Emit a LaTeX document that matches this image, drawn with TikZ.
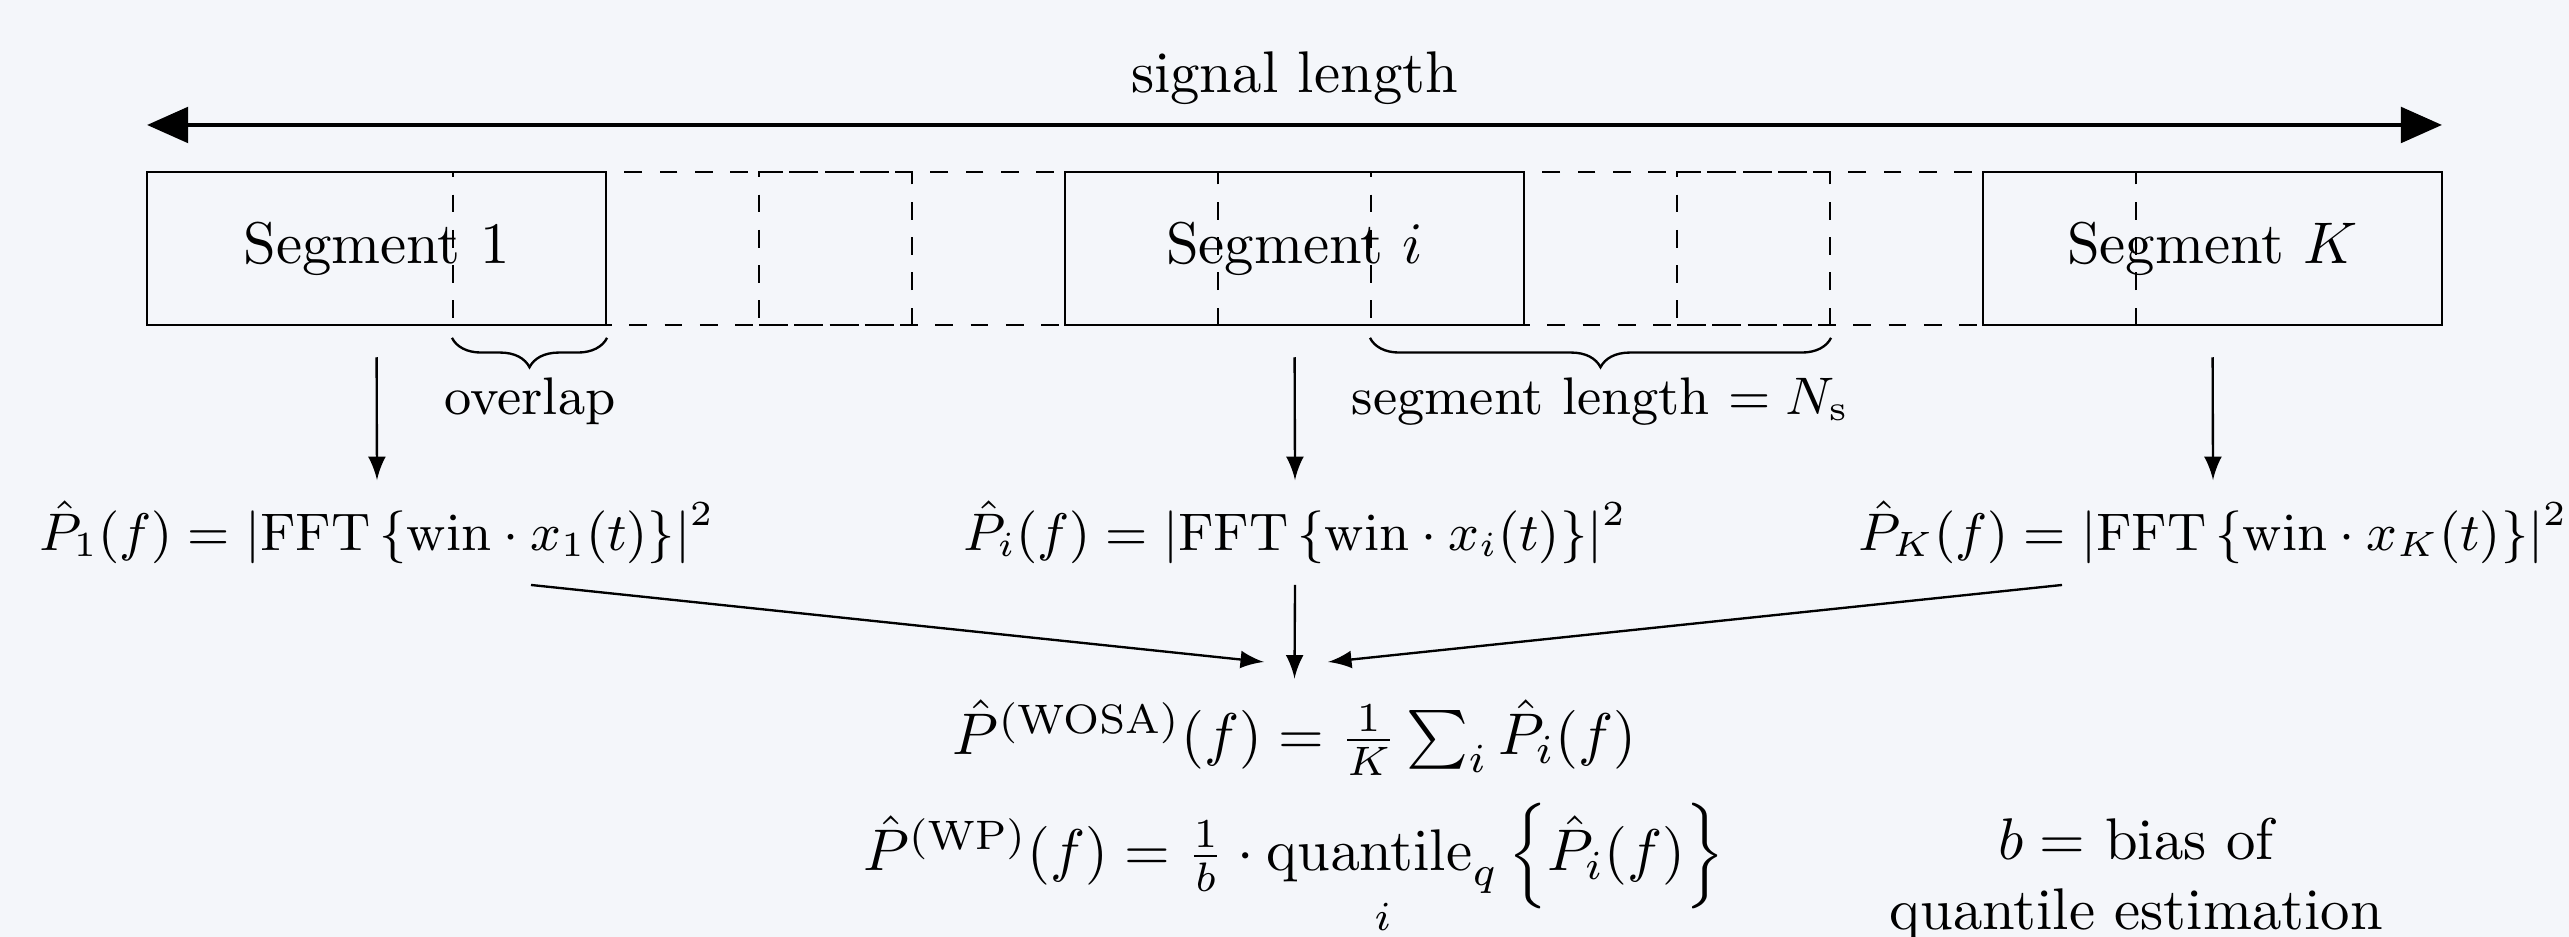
\documentclass[tikz,border=0pt]{standalone}
\usepackage{amsmath}
\usetikzlibrary{arrows.meta,decorations.pathreplacing,calc}
\definecolor{bgcol}{RGB}{244,246,250}
\begin{document}
\begin{tikzpicture}[x=0.0059773cm,y=-0.0059773cm,
  segbox/.style={draw, line width=0.4pt, minimum width=2.7436cm, minimum height=0.91453cm, inner sep=0pt},
  dashbox/.style={segbox, dashed},
  bigarrow/.style={thick, {Triangle[length=7pt,width=6pt]}-{Triangle[length=7pt,width=6pt]}},
  flow/.style={-latex, line width=0.4pt},
  bracedeco/.style={decorate, decoration={brace, mirror, amplitude=5pt, raise=2pt}},
  bracelab/.style={anchor=base, font=\small},
  formula/.style={anchor=base},
  smallformula/.style={anchor=base, font=\small}]
\useasboundingbox[fill=bgcol] (0,0) rectangle (2569,937);

% dashed intermediate segments
\node[dashbox] (d1) at (682.5,248.5) {};
\node[dashbox] (d2) at (988.5,248.5) {};
\node[dashbox] (d3) at (1600.5,248.5) {};
\node[dashbox] (d4) at (1906.5,248.5) {};

% solid segments
\node[segbox] (s1) at (376.5,248.5) {Segment 1};
\node[segbox] (si) at (1294.5,248.5) {Segment $i$};
\node[segbox] (sK) at (2212.5,248.5) {Segment $K$};

% signal length arrow
\coordinate (sigL) at (147,125);
\coordinate (sigR) at (2442,125);
\draw[bigarrow] (sigL) -- (sigR);
\node[anchor=base] (siglab) at (1294.5,93) {signal length};

% braces
\draw[bracedeco] (d1.south west) -- (s1.south east);
\node[bracelab] (ovl) at (530,415) {overlap};
\draw[bracedeco] (d3.south west) -- (d3.south east);
\node[bracelab] (seglen) at (1600.5,415) {segment length $= N_{\mathrm{s}}$};

% periodograms
\node[smallformula] (P1) at (377,551) {$\hat{P}_1(f) = \left|\mathrm{FFT}\left\{\mathrm{win}\cdot x_1(t)\right\}\right|^2$};
\node[smallformula] (Pi) at (1295,551) {$\hat{P}_i(f) = \left|\mathrm{FFT}\left\{\mathrm{win}\cdot x_i(t)\right\}\right|^2$};
\node[smallformula] (PK) at (2213,551) {$\hat{P}_K(f) = \left|\mathrm{FFT}\left\{\mathrm{win}\cdot x_K(t)\right\}\right|^2$};

\draw[flow, shorten <=5.3pt] (s1.south) -- (P1.north);
\draw[flow, shorten <=5.3pt] (si.south) -- (Pi.north);
\draw[flow, shorten <=5.3pt] (sK.south) -- (PK.north);

% estimators
\node[formula] (W) at (1294.5,755) {$\hat{P}^{(\mathrm{WOSA})}(f) = \frac{1}{K}\sum_i \hat{P}_i(f)$};
\node[formula] (WP) at (1294,871) {$\hat{P}^{(\mathrm{WP})}(f) = \frac{1}{b}\cdot\underset{i}{\mathrm{quantile}_q}\left\{\hat{P}_i(f)\right\}$};
\node[align=center, anchor=base] (bias) at (2136,930) {$b=$ bias of\\quantile estimation};

\draw[flow] ($(P1.south)+(154,0)$) -- ($(Pi.south)+(-31,77)$);
\draw[flow] ($(PK.south)+(-151,0)$) -- ($(Pi.south)+(33,77)$);
\draw[flow] (Pi.south) -- (W.north);
\end{tikzpicture}
\end{document}
